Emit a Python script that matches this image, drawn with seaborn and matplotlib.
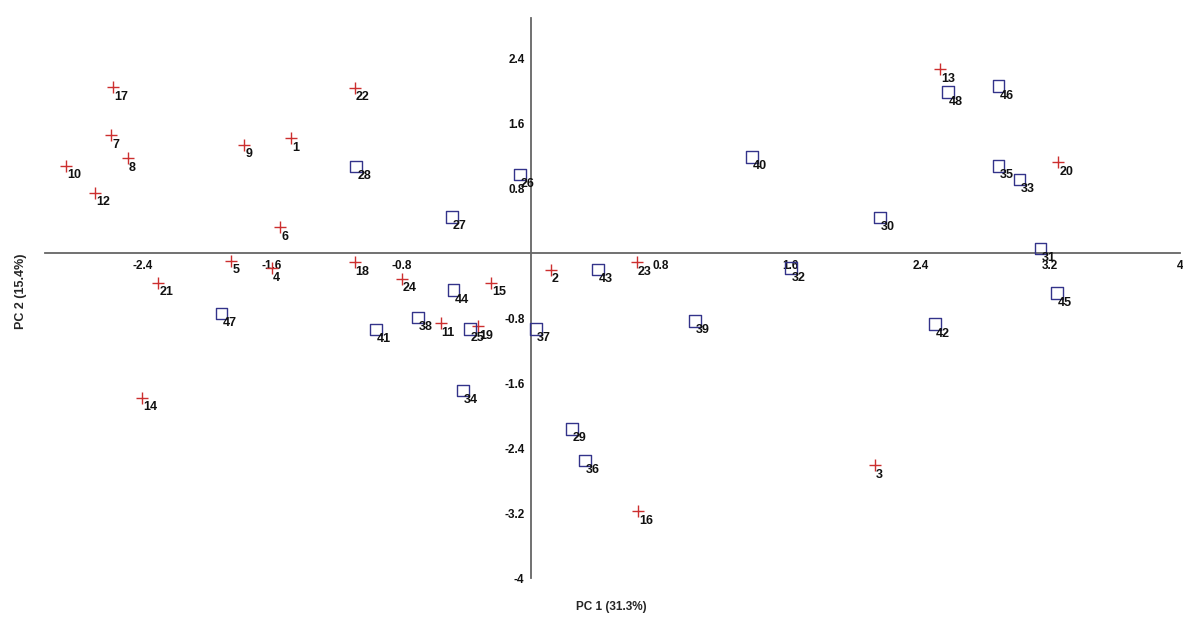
import matplotlib
matplotlib.use('Agg')
import matplotlib.pyplot as plt
import seaborn as sns
import pandas as pd

sns.set_style('white')
FONT = ['Liberation Sans', 'DejaVu Sans']
plt.rcParams['font.family'] = FONT

RED  = '#cc2f2f'
NAVY = '#33338a'

# ── Data: PCA scores ──────────────────────────────────────────
# group A (red crosses)
ids_a = [1, 2, 3, 4, 5, 6, 7, 8, 9, 10, 11, 12,
         13, 14, 15, 16, 17, 18, 19, 20, 21, 22, 23, 24]
pc1_a = [-1.48, 0.12, 2.12, -1.60, -1.85, -1.55, -2.59, -2.49, -1.77, -2.87, -0.56, -2.69,
         2.52, -2.40, -0.25, 0.66, -2.58, -1.09, -0.33, 3.25, -2.30, -1.09, 0.65, -0.80]
pc2_a = [1.42, -0.20, -2.61, -0.18, -0.09, 0.32, 1.46, 1.17, 1.34, 1.08, -0.86, 0.75,
         2.27, -1.78, -0.36, -3.18, 2.05, -0.11, -0.90, 1.12, -0.36, 2.04, -0.11, -0.31]

# group B (blue open squares)
ids_b = [25, 26, 27, 28, 29, 30, 31, 32, 33, 34, 35, 36,
         37, 38, 39, 40, 41, 42, 43, 44, 45, 46, 47, 48]
pc1_b = [-0.38, -0.07, -0.49, -1.08, 0.25, 2.15, 3.14, 1.60, 3.01, -0.42, 2.88, 0.33,
         0.03, -0.70, 1.01, 1.36, -0.96, 2.49, 0.41, -0.48, 3.24, 2.88, -1.91, 2.57]
pc2_b = [-0.93, 0.97, 0.45, 1.07, -2.16, 0.44, 0.06, -0.18, 0.91, -1.69, 1.08, -2.55,
         -0.93, -0.79, -0.83, 1.19, -0.94, -0.87, -0.20, -0.45, -0.49, 2.06, -0.74, 1.99]

xticks = [-2.4, -1.6, -0.8, 0.8, 1.6, 2.4, 3.2, 4]
yticks = [-4, -3.2, -2.4, -1.6, -0.8, 0.8, 1.6, 2.4]

df_a = pd.DataFrame({'id': ids_a, 'PC1': pc1_a, 'PC2': pc2_a})
df_b = pd.DataFrame({'id': ids_b, 'PC1': pc1_b, 'PC2': pc2_b})

# ── Figure ────────────────────────────────────────────────────
fig = plt.figure(figsize=(11.83, 6.22), dpi=100, facecolor='white')
ax = fig.add_axes([0.038, 0.0707, 0.9594, 0.9003])

sns.scatterplot(data=df_a, x='PC1', y='PC2', ax=ax, marker='+', s=80,
                color=RED, linewidth=1.0, legend=False, zorder=3)
sns.scatterplot(data=df_b, x='PC1', y='PC2', ax=ax, marker='s', s=70,
                facecolor='none', edgecolor=NAVY, linewidth=1.0,
                legend=False, zorder=3)

# point numbers, lower right of each marker
for d in (df_a, df_b):
    for _, r in d.iterrows():
        ax.annotate(str(int(r['id'])), (r['PC1'], r['PC2']),
                    xytext=(0.7, -2.6), textcoords='offset points',
                    ha='left', va='top', fontsize=9, fontweight='bold',
                    color='#111111', zorder=4)

ax.set_xlim(-3.0, 4.0)
ax.set_ylim(-4.0, 2.9)

# axes crossing at the origin
for side in ('top', 'right'):
    ax.spines[side].set_visible(False)
ax.spines['left'].set_position(('data', 0))
ax.spines['bottom'].set_position(('data', 0))
for side in ('left', 'bottom'):
    ax.spines[side].set_color('#666666')
    ax.spines[side].set_linewidth(1.3)

ax.set_xticks(xticks)
ax.set_yticks(yticks)
ax.set_xticklabels([f'{v:g}' for v in xticks])
ax.set_yticklabels([f'{v:g}' for v in yticks])
ax.tick_params(axis='both', direction='out', length=4, width=1,
               color='#666666', labelsize=8.5, pad=1)
for lab in ax.get_xticklabels() + ax.get_yticklabels():
    lab.set_fontweight('bold')
    lab.set_color('#111111')

ax.set_xlabel('')
ax.set_ylabel('')
fig.text(0.5165, 0.024, 'PC 1 (31.3%)', ha='center', va='center',
         fontsize=8.5, fontweight='bold')
fig.text(0.018, 0.532, 'PC 2 (15.4%)', ha='center', va='center',
         rotation=90, fontsize=9, fontweight='bold')

plt.savefig('out.png', dpi=100, facecolor='white')
